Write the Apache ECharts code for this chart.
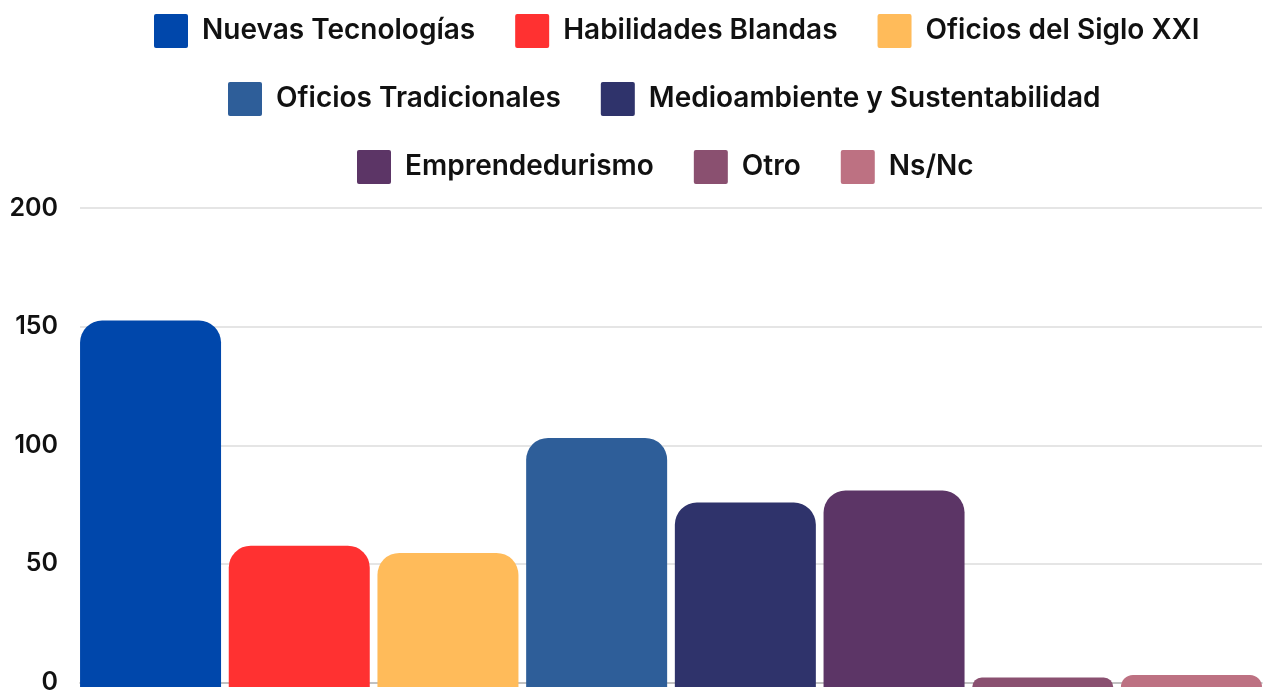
<!DOCTYPE html>
<html>
<head>
<meta charset="utf-8">
<script src="https://cdn.jsdelivr.net/npm/echarts@6/dist/echarts.min.js"></script>
<style>
  html, body { margin: 0; padding: 0; background: #fff; overflow: hidden; }
  #chart { width: 1270px; height: 695px; }
</style>
</head>
<body>
<div id="chart"></div>
<script>
// Áreas de interés y cantidad de respuestas
const categories = [
  'Nuevas Tecnologías',
  'Habilidades Blandas',
  'Oficios del Siglo XXI',
  'Oficios Tradicionales',
  'Medioambiente y Sustentabilidad',
  'Emprendedurismo',
  'Otro',
  'Ns/Nc'
];
const values = [153, 59, 56, 104, 77, 82, 4, 5];
const colors = ['#0047AB', '#FF3131', '#FFBB5A', '#2E5E99', '#2F336B', '#5C3566', '#8A5070', '#BD7182'];
const yTicks = [0, 50, 100, 150, 200];

// Filas de la leyenda
const legendRows = [
  categories.slice(0, 3),
  categories.slice(3, 5),
  categories.slice(5, 8)
];

const FONT = 'Inter, "DejaVu Sans", sans-serif';
const legendIcon = 'path://M2,0H32A2,2 0 0 1 34,2V32A2,2 0 0 1 32,34H2A2,2 0 0 1 0,32V2A2,2 0 0 1 2,0Z';
const legendLefts = [154, 228, 357];
const legendTops = [14, 82, 150];

const chart = echarts.init(document.getElementById('chart'), null, { renderer: 'canvas' });

const yRange = {
  type: 'value',
  min: yTicks[0],
  max: yTicks[yTicks.length - 1],
  interval: yTicks[1] - yTicks[0]
};

// Cada área es su propia serie; sólo tiene valor en su propia columna
const series = categories.map((name, i) => ({
  name: name,
  type: 'bar',
  stack: 'total',
  xAxisIndex: 1,
  yAxisIndex: 1,
  barWidth: 141,
  data: categories.map((_, j) => (j === i ? values[i] : '-')),
  itemStyle: { color: colors[i], borderRadius: [22, 22, 0, 0] }
}));

chart.setOption({
  animation: false,
  backgroundColor: '#ffffff',
  color: colors,
  textStyle: { fontFamily: FONT },
  legend: legendRows.map((row, r) => ({
    data: row,
    left: legendLefts[r],
    top: legendTops[r],
    padding: 0,
    orient: 'horizontal',
    icon: legendIcon,
    itemWidth: 34,
    itemHeight: 34,
    itemGap: 40,
    selectedMode: false,
    textStyle: {
      fontFamily: FONT,
      fontSize: 28,
      fontWeight: 600,
      color: '#111111',
      padding: [0, 0, 0, 9]
    }
  })),
  grid: [
    // rejilla con etiquetas y líneas guía
    { left: 80, right: 8, top: 208, bottom: 8 },
    // rejilla de las barras, de borde a borde
    { left: 76.2, right: 4.2, top: 208, bottom: 8 }
  ],
  xAxis: [
    {
      gridIndex: 0,
      type: 'category',
      data: categories,
      axisLabel: { show: false },
      axisTick: { show: false },
      axisLine: { show: true, lineStyle: { color: '#b5b5b5', width: 1.5 } }
    },
    {
      gridIndex: 1,
      type: 'category',
      data: categories,
      axisLabel: { show: false },
      axisTick: { show: false },
      axisLine: { show: false }
    }
  ],
  yAxis: [
    Object.assign({}, yRange, {
      gridIndex: 0,
      axisLine: { show: false },
      axisTick: { show: false },
      splitLine: { lineStyle: { color: '#dddddd', width: 1.5 } },
      axisLabel: {
        margin: 22,
        fontFamily: FONT,
        fontSize: 25,
        fontWeight: 600,
        color: '#111111'
      }
    }),
    Object.assign({}, yRange, {
      gridIndex: 1,
      axisLine: { show: false },
      axisTick: { show: false },
      splitLine: { show: false },
      axisLabel: { show: false }
    })
  ],
  series: series
});
</script>
</body>
</html>
